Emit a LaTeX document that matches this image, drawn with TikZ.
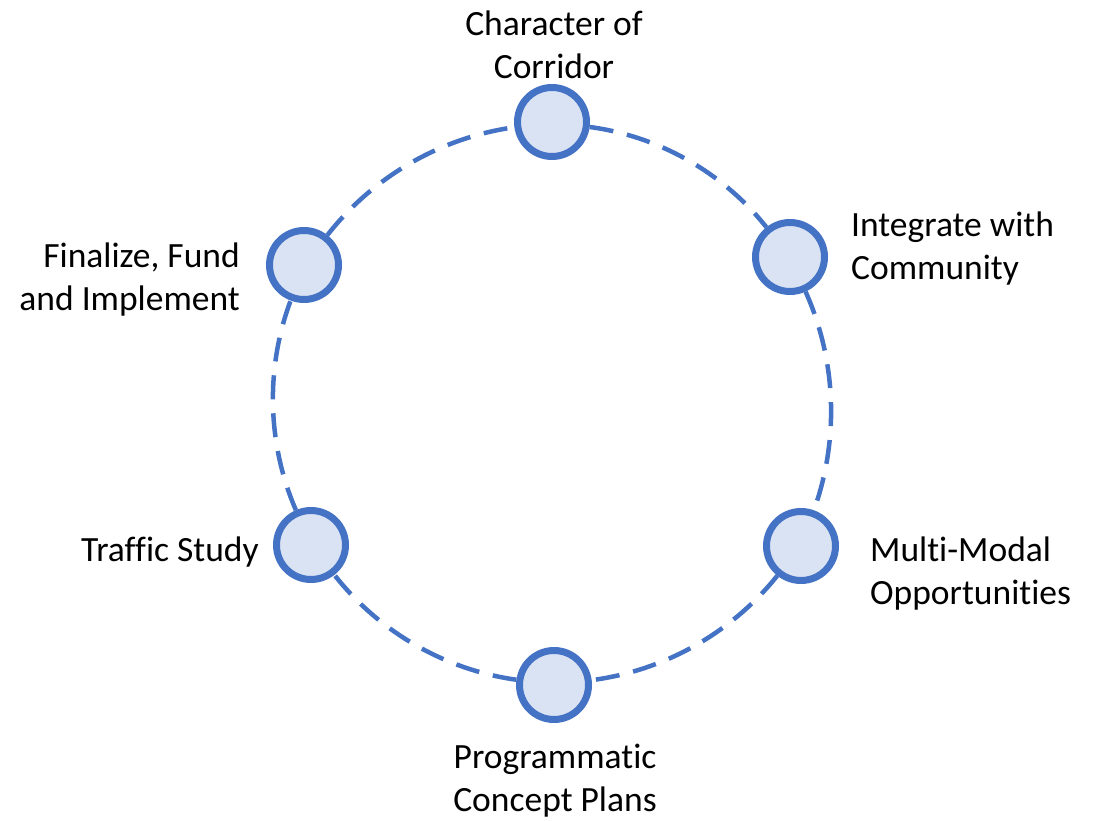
\documentclass[tikz,border=0pt]{standalone}
\usepackage{fontspec}
\setmainfont{Carlito}[RawFeature=-liga]
\definecolor{ringblue}{HTML}{4472C4}
\definecolor{ringfill}{HTML}{DAE3F3}
\tikzset{
    stage/.style={circle, draw=ringblue, fill=ringfill, line width=7pt,
        minimum size=69pt, inner sep=0pt},
    cyc/.style={draw=ringblue, line width=4.5pt, dash pattern=on 24pt off 14pt},
    lbl/.style={font=\fontsize{35.5}{43}\selectfont, inner sep=0pt}
}
\begin{document}
\begin{tikzpicture}[x=1pt, y=1pt]
\useasboundingbox (0, 0) rectangle (1097, 820);

\node[stage] (char) at (552, 698) {};
\node[stage] (integ) at (790, 563) {};
\node[stage] (multi) at (801, 274) {};
\node[stage] (prog) at (554, 135) {};
\node[stage] (traffic) at (311, 275) {};
\node[stage] (final) at (304, 555) {};

\foreach \a/\b in {char/integ, integ/multi, multi/prog, prog/traffic,
	traffic/final, final/char} {
    \draw[cyc] (\a) to[bend left=22, looseness=0.88] (\b);
}

\node[lbl, align=center] (char-l) at (554, 775) {Character of\\Corridor};
\node[lbl, align=left, anchor=west] (integ-l) at (851, 571) {Integrate with\\Community};
\node[lbl, align=left, anchor=west] (multi-l) at (870, 246) {Multi-Modal\\Opportunities};
\node[lbl, align=center] (prog-l) at (555, 39) {Programmatic\\Concept Plans};
\node[lbl, anchor=east] (traffic-l) at (259, 268) {Traffic Study};
\node[lbl, align=right, anchor=east] (final-l) at (240, 540) {Finalize, Fund\\and Implement};
\end{tikzpicture}
\end{document}
